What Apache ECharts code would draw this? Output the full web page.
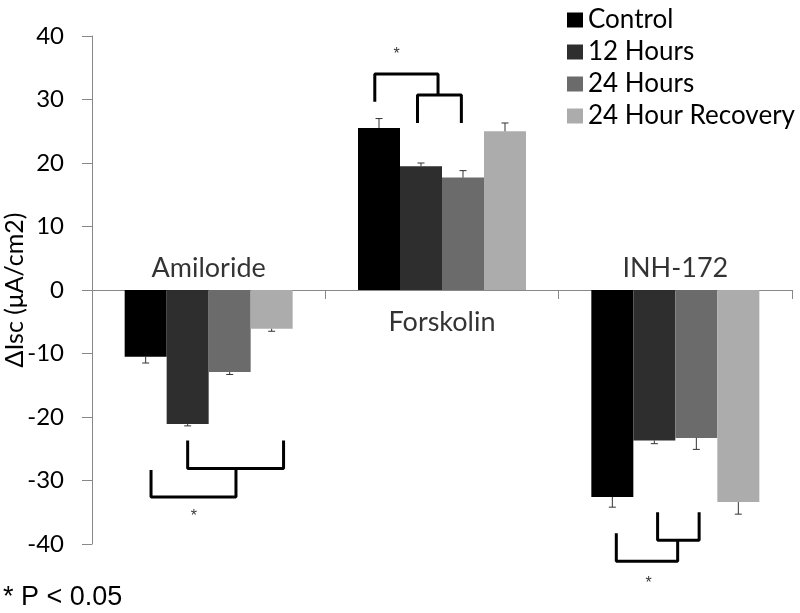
<!DOCTYPE html>
<html>
<head>
<meta charset="utf-8">
<script src="https://cdn.jsdelivr.net/npm/echarts@6/dist/echarts.min.js"></script>
<style>
  html, body { margin: 0; padding: 0; background: #fff; }
  #chart { width: 800px; height: 613px; }
</style>
</head>
<body>
<div id="chart"></div>
<script>
// data
const categories = ['Amiloride', 'Forskolin', 'INH-172']
const seriesNames = ['Control', '12 Hours', '24 Hours', '24 Hour Recovery']
const seriesColors = ['#000000', '#2e2e2e', '#6b6b6b', '#acacac']

const control = [-10.5, 25.5, -32.6]
const hours12 = [-21.1, 19.5, -23.7]
const hours24 = [-12.9, 17.7, -23.3]
const recovery = [-6.1, 25.0, -33.4]

const controlErr = [1.0, 1.5, 1.6]
const hours12Err = [0.3, 0.5, 0.5]
const hours24Err = [0.4, 1.1, 1.8]
const recoveryErr = [0.4, 1.3, 1.9]

const yTicks = [-40, -30, -20, -10, 0, 10, 20, 30, 40]

// significance brackets, x in category units (0 = Amiloride centre), y in µA/cm2
const brackets = [
  [[-0.090, -23.7], [-0.090, -28.1], [0.321, -28.1], [0.321, -23.7]],
  [[-0.247, -28.35], [-0.247, -32.6], [0.117, -32.6], [0.117, -28.1]],
  [[0.712, 29.65], [0.712, 34.0], [0.983, 34.0], [0.983, 30.7]],
  [[0.895, 26.3], [0.895, 30.7], [1.083, 30.7], [1.083, 26.3]],
  [[1.924, -35.0], [1.924, -39.4], [2.102, -39.4], [2.102, -35.0]],
  [[1.747, -38.3], [1.747, -42.7], [2.010, -42.7], [2.010, -39.4]]
]
const stars = [[-0.063, -34.9], [0.806, 37.8], [1.886, -45.5]]

const values = [control, hours12, hours24, recovery]
const errors = [controlErr, hours12Err, hours24Err, recoveryErr]

const BAR_W = 42
const FONT = 'Lato, "Noto Sans", sans-serif'

const chart = echarts.init(document.getElementById('chart'))

const barSeries = seriesNames.map((name, i) => ({
  name,
  type: 'bar',
  xAxisIndex: 0,
  barWidth: BAR_W,
  barGap: '0%',
  data: values[i],
  itemStyle: { color: seriesColors[i] },
  z: 2
}))

const errorSeries = seriesNames.map((name, i) => ({
  type: 'custom',
  xAxisIndex: 0,
  data: values[i].map((v, c) => [c, v, errors[i][c]]),
  renderItem: (params, api) => {
    const c = api.value(0)
    const v = api.value(1)
    const e = api.value(2)
    const end = v + Math.sign(v) * e
    const p0 = api.coord([c, v])
    const p1 = api.coord([c, end])
    const x = p0[0] + (i - 1.5) * BAR_W
    const style = { stroke: '#333', lineWidth: 1 }
    return {
      type: 'group',
      children: [
        { type: 'line', shape: { x1: x, y1: p0[1], x2: x, y2: p1[1] }, style },
        { type: 'line', shape: { x1: x - 3.5, y1: p1[1], x2: x + 3.5, y2: p1[1] }, style }
      ]
    }
  },
  z: 3,
  silent: true
}))

const bracketSeries = brackets.map(b => ({
  type: 'line',
  xAxisIndex: 1,
  data: b,
  symbol: 'none',
  clip: false,
  lineStyle: { color: '#000', width: 3 },
  silent: true,
  z: 4
}))

// category names sit above the zero line for the negative groups, below it for Forskolin
const categoryLabelSeries = {
  type: 'scatter',
  xAxisIndex: 0,
  symbolSize: 1,
  itemStyle: { color: 'transparent' },
  silent: true,
  z: 5,
  data: categories.map((c, i) => ({
    value: [i, 0],
    label: {
      show: true,
      formatter: c,
      position: values[0][i] >= 0 ? 'bottom' : 'top',
      distance: values[0][i] >= 0 ? 18 : 8,
      fontSize: 27,
      color: '#000',
      fontFamily: FONT
    }
  }))
}

const option = {
  backgroundColor: '#fff',
  animation: false,
  textStyle: { fontFamily: FONT },
  grid: {
    left: 92, right: 8, top: 36, bottom: 69,
    containLabel: false,
    outerBoundsMode: 'none'
  },
  legend: {
    data: seriesNames,
    orient: 'vertical',
    left: 562,
    top: 2,
    itemWidth: 16,
    itemHeight: 15,
    itemGap: 6,
    icon: 'rect',
    textStyle: { fontSize: 26, color: '#000', fontFamily: FONT }
  },
  xAxis: [
    {
      type: 'category',
      data: categories,
      axisLine: { onZero: true, lineStyle: { color: '#888', width: 1 } },
      axisTick: { show: true, length: 9, lineStyle: { color: '#888' } },
      axisLabel: { show: false }
    },
    {
      type: 'value',
      min: -0.5,
      max: 2.5,
      show: false
    }
  ],
  yAxis: {
    type: 'value',
    min: yTicks[0],
    max: yTicks[yTicks.length - 1],
    interval: 10,
    name: 'ΔIsc (μA/cm2)',
    nameLocation: 'middle',
    nameGap: 65,
    nameMoveOverlap: false,
    nameTextStyle: { fontSize: 25, color: '#000', fontFamily: FONT },
    axisLine: { show: true, onZero: false, lineStyle: { color: '#888', width: 1 } },
    axisTick: { show: true, length: 10, lineStyle: { color: '#888' } },
    axisLabel: { fontSize: 24, color: '#000', margin: 28 },
    splitLine: { show: false }
  },
  series: [
    ...barSeries,
    ...errorSeries,
    ...bracketSeries,
    categoryLabelSeries,
    {
      type: 'scatter',
      xAxisIndex: 1,
      data: stars,
      symbolSize: 1,
      itemStyle: { color: 'transparent' },
      clip: false,
      label: {
        show: true,
        position: 'inside',
        offset: [0, 5],
        formatter: '*',
        fontSize: 16,
        color: '#000',
        fontFamily: 'Liberation Sans, Arial, sans-serif'
      },
      silent: true,
      z: 5
    }
  ],
  graphic: [
    {
      type: 'text',
      left: 3,
      top: 584,
      style: {
        text: '* P < 0.05',
        fontSize: 27,
        fill: '#000',
        fontFamily: 'Liberation Sans, Arial, sans-serif'
      }
    }
  ]
}

chart.setOption(option)
</script>
</body>
</html>
